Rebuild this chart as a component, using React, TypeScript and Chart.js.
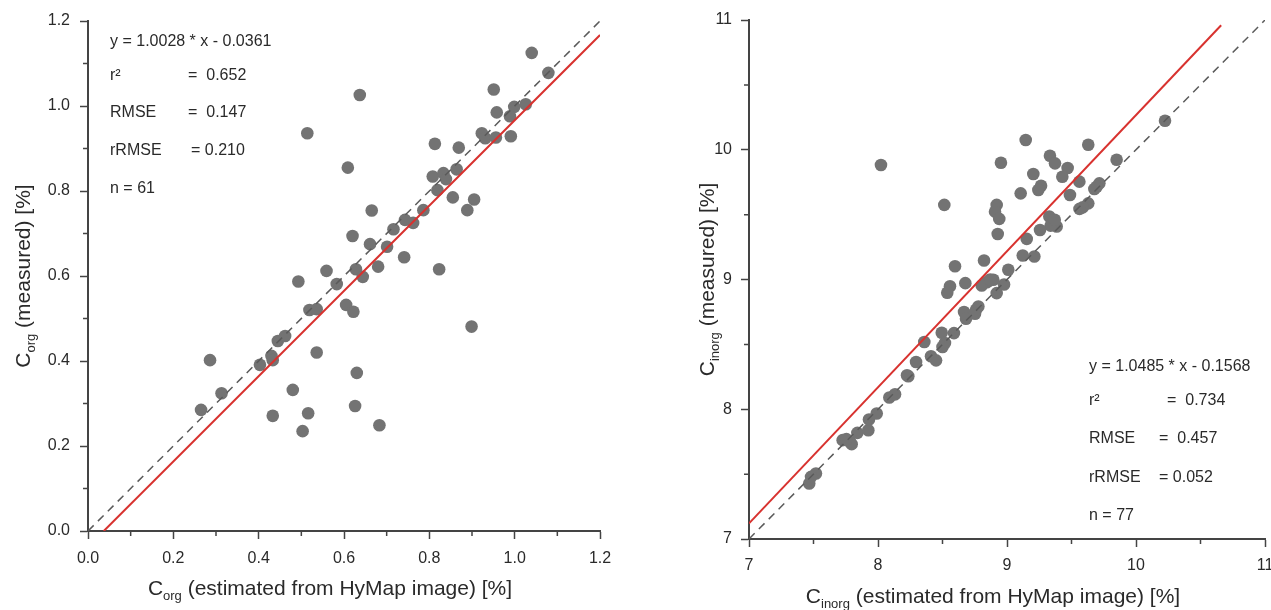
import React, { useEffect, useRef } from 'react';
import { Chart, registerables } from 'chart.js';

Chart.register(...registerables);

const FONT = "'Liberation Sans', Arial, Helvetica, sans-serif";
const AXIS_COLOR = '#444444';
const TEXT_COLOR = '#2a2a2a';
const DOT_COLOR = '#737373';
const RED = '#d8322f';
const DASH = '#5a5a5a';

// ---------- Left chart: C_org ----------
const orgAxisMin = 0;
const orgAxisMax = 1.2;
const orgMajorStep = 0.2;
const orgMinorTicks = [0.1, 0.3, 0.5, 0.7, 0.9, 1.1];
const orgEstimated = [
  1.04, 1.079, 0.951, 0.637, 0.958, 0.999, 0.989, 1.026, 0.923, 0.931, 0.956, 0.991,
  0.514, 0.813, 0.869, 0.609, 0.808, 0.833, 0.839, 0.864, 0.819, 0.855, 0.905, 0.889,
  0.665, 0.786, 0.743, 0.762, 0.716, 0.62, 0.661, 0.701, 0.741, 0.559, 0.628, 0.68,
  0.823, 0.644, 0.583, 0.493, 0.519, 0.536, 0.536, 0.286, 0.265, 0.313, 0.403, 0.43,
  0.433, 0.445, 0.462, 0.48, 0.433, 0.516, 0.503, 0.605, 0.622, 0.899, 0.63, 0.626, 0.683,
];
const orgMeasured = [
  1.125, 1.078, 1.039, 1.026, 0.985, 0.998, 0.976, 1.004, 0.936, 0.924, 0.926, 0.929,
  0.936, 0.911, 0.902, 0.855, 0.834, 0.842, 0.828, 0.851, 0.802, 0.785, 0.78, 0.755,
  0.754, 0.755, 0.732, 0.725, 0.71, 0.694, 0.675, 0.669, 0.644, 0.612, 0.616, 0.622,
  0.616, 0.598, 0.581, 0.587, 0.52, 0.522, 0.42, 0.402, 0.285, 0.324, 0.391, 0.412,
  0.402, 0.447, 0.459, 0.332, 0.271, 0.277, 0.235, 0.532, 0.516, 0.481, 0.372, 0.294, 0.249,
];
const orgFitX = [0.037, 1.2];
const orgFitY = [0, 1.167];
const orgOneToOne = [0, 1.2];
const orgStatLabels = ['y = 1.0028 * x - 0.0361', 'r\u00B2', 'RMSE', 'rRMSE', 'n = 61'];
const orgStatValues = ['', '=  0.652', '=  0.147', '= 0.210', ''];

// ---------- Right chart: C_inorg ----------
const inorgAxisMin = 7;
const inorgAxisMax = 11;
const inorgMajorStep = 1;
const inorgMinorTicks = [7.5, 8.5, 9.5, 10.5];
const inorgEstimated = [
  8.023, 8.514, 8.597, 8.822, 8.558, 8.537, 8.677, 8.667, 8.682, 8.76, 8.778, 8.494,
  8.589, 8.519, 8.359, 8.843, 10.225, 9.145, 9.63, 9.333, 9.372, 8.953, 9.47, 9.85,
  9.204, 9.429, 9.264, 9.243, 9.106, 9.488, 9.561, 9.716, 9.695, 9.677, 8.92, 8.907,
  8.94, 8.928, 9.63, 9.587, 9.562, 9.328, 9.359, 9.385, 9.338, 9.256, 9.153, 9.122,
  9.212, 9.01, 8.977, 8.92, 8.863, 8.894, 8.804, 8.752, 7.519, 7.481, 7.467, 7.726,
  7.783, 7.796, 7.84, 7.925, 7.93, 7.99, 8.088, 8.132, 8.235, 8.295, 8.411, 8.45,
  8.5, 9.37, 8.225, 7.755, 8.87,
];
const inorgMeasured = [
  9.882, 9.575, 9.102, 9.146, 8.948, 8.898, 8.972, 8.749, 8.698, 8.767, 8.792, 8.59,
  8.587, 8.51, 8.518, 8.979, 10.223, 10.075, 10.038, 9.954, 9.895, 9.9, 9.859, 9.923,
  9.813, 9.792, 9.723, 9.69, 9.664, 9.651, 9.754, 9.741, 9.715, 9.698, 9.575, 9.523,
  9.467, 9.351, 9.587, 9.556, 9.544, 9.485, 9.441, 9.408, 9.415, 9.382, 9.313, 9.185,
  9.177, 9.075, 8.962, 8.895, 8.992, 8.998, 8.954, 8.736, 7.505, 7.479, 7.428, 7.762,
  7.749, 7.731, 7.818, 7.838, 7.921, 7.967, 8.09, 8.115, 8.254, 8.364, 8.408, 8.377,
  8.48, 9.46, 8.262, 7.77, 9.0,
];
const inorgFitX = [7, 10.66];
const inorgFitY = [7.12, 10.96];
const inorgOneToOne = [7, 11];
const inorgStatLabels = ['y = 1.0485 * x - 0.1568', 'r\u00B2', 'RMSE', 'rRMSE', 'n = 77'];
const inorgStatValues = ['', '=  0.734', '=  0.457', '= 0.052', ''];

type Layout = {
  canvasLeft: number;
  canvasWidth: number;
  yScaleWidth: number;
  xScaleHeight: number;
  padTop: number;
  padRight: number;
  labelPad: number;
  xTitleDx: number;
  xTitleY: number;
  yTitleX: number;
  sub: string;
  statX: number;
  statValX: number[];
  statY: number[];
  decimals: number;
};

function toPoints(xs: number[], ys: number[]) {
  return xs.map((x, i) => ({ x, y: ys[i] }));
}

function drawTitle(ctx: CanvasRenderingContext2D, cx: number, cy: number, sub: string, rest: string, rotate: boolean) {
  ctx.save();
  ctx.translate(cx, cy);
  if (rotate) ctx.rotate(-Math.PI / 2);
  const mainFont = `21px ${FONT}`;
  const subFont = `13px ${FONT}`;
  ctx.font = mainFont;
  const wC = ctx.measureText('C').width;
  const wRest = ctx.measureText(rest).width;
  ctx.font = subFont;
  const wSub = ctx.measureText(sub).width;
  const total = wC + wSub + wRest;
  let x = -total / 2;
  ctx.fillStyle = TEXT_COLOR;
  ctx.textBaseline = 'alphabetic';
  ctx.textAlign = 'left';
  ctx.font = mainFont;
  ctx.fillText('C', x, 7);
  x += wC;
  ctx.font = subFont;
  ctx.fillText(sub, x, 12);
  x += wSub;
  ctx.font = mainFont;
  ctx.fillText(rest, x, 7);
  ctx.restore();
}

function buildConfig(
  L: Layout,
  min: number,
  max: number,
  step: number,
  minor: number[],
  ex: number[],
  me: number[],
  fitX: number[],
  fitY: number[],
  one: number[],
  statLabels: string[],
  statValues: string[],
) {
  const tickFont = { family: FONT, size: 16 };
  const grid = {
    display: true,
    drawOnChartArea: false,
    drawTicks: true,
    tickLength: 8,
    tickWidth: 1.5,
    tickColor: AXIS_COLOR,
    color: AXIS_COLOR,
  };
  const border = { display: true, color: AXIS_COLOR, width: 2 };
  const fmt = (v: any) => Number(v).toFixed(L.decimals);

  const overlay = {
    id: 'overlay' + L.sub,
    afterDraw(chart: any) {
      const ctx: CanvasRenderingContext2D = chart.ctx;
      const area = chart.chartArea;
      const xs = chart.scales.x;
      const ys = chart.scales.y;
      ctx.save();
      ctx.strokeStyle = AXIS_COLOR;
      ctx.lineWidth = 1.5;
      ctx.beginPath();
      minor.forEach((v) => {
        const px = xs.getPixelForValue(v);
        ctx.moveTo(px, area.bottom);
        ctx.lineTo(px, area.bottom + 5);
        const py = ys.getPixelForValue(v);
        ctx.moveTo(area.left, py);
        ctx.lineTo(area.left - 5, py);
      });
      ctx.stroke();
      ctx.restore();

      const cx = (area.left + area.right) / 2 + L.xTitleDx;
      drawTitle(ctx, cx, L.xTitleY, L.sub, ' (estimated from HyMap image) [%]', false);
      drawTitle(ctx, L.yTitleX, (area.top + area.bottom) / 2, L.sub, ' (measured) [%]', true);

      ctx.save();
      ctx.font = `16px ${FONT}`;
      ctx.fillStyle = TEXT_COLOR;
      ctx.textBaseline = 'middle';
      ctx.textAlign = 'left';
      statLabels.forEach((t, i) => {
        ctx.fillText(t, L.statX, L.statY[i]);
        if (statValues[i]) ctx.fillText(statValues[i], L.statValX[i], L.statY[i]);
      });
      ctx.restore();
    },
  };

  return {
    type: 'scatter' as const,
    data: {
      datasets: [
        {
          data: toPoints(fitX, fitY),
          showLine: true,
          borderColor: RED,
          borderWidth: 2,
          pointRadius: 0,
          order: 0,
        },
        {
          data: toPoints(one, one),
          showLine: true,
          borderColor: DASH,
          borderWidth: 1.5,
          borderDash: [8, 6],
          pointRadius: 0,
          order: 1,
        },
        {
          data: toPoints(ex, me),
          showLine: false,
          pointRadius: 6.3,
          pointBackgroundColor: DOT_COLOR,
          pointBorderWidth: 0,
          order: 2,
        },
      ],
    },
    options: {
      responsive: false,
      animation: false as const,
      events: [],
      layout: { padding: { top: L.padTop, right: L.padRight, left: 0, bottom: 0 } },
      plugins: { legend: { display: false }, tooltip: { enabled: false } },
      scales: {
        x: {
          type: 'linear' as const,
          min,
          max,
          afterFit: (s: any) => {
            s.height = L.xScaleHeight;
          },
          ticks: {
            stepSize: step,
            callback: fmt,
            font: tickFont,
            color: TEXT_COLOR,
            padding: L.labelPad,
            maxRotation: 0,
            autoSkip: false,
          },
          grid,
          border,
        },
        y: {
          type: 'linear' as const,
          min,
          max,
          afterFit: (s: any) => {
            s.width = L.yScaleWidth;
          },
          ticks: {
            stepSize: step,
            callback: fmt,
            font: tickFont,
            color: TEXT_COLOR,
            padding: L.labelPad,
            autoSkip: false,
          },
          grid,
          border,
        },
      },
    },
    plugins: [overlay],
  };
}

const leftLayout: Layout = {
  canvasLeft: 0,
  canvasWidth: 630,
  yScaleWidth: 88,
  xScaleHeight: 79,
  padTop: 21,
  padRight: 30,
  labelPad: 10,
  xTitleDx: -14,
  xTitleY: 588,
  yTitleX: 23,
  sub: 'org',
  statX: 110,
  statValX: [0, 188, 188, 191, 0],
  statY: [42, 76, 113, 151, 189],
  decimals: 1,
};

const rightLayout: Layout = {
  canvasLeft: 640,
  canvasWidth: 660,
  yScaleWidth: 109,
  xScaleHeight: 71,
  padTop: 20,
  padRight: 35,
  labelPad: 9,
  xTitleDx: -14,
  xTitleY: 596,
  yTitleX: 707 - 640,
  sub: 'inorg',
  statX: 1089 - 640,
  statValX: [0, 1167 - 640, 1159 - 640, 1159 - 640, 0],
  statY: [367, 401, 439, 478, 516],
  decimals: 0,
};

function ScatterPanel(props: { layout: Layout; which: 'org' | 'inorg' }) {
  const ref = useRef<HTMLCanvasElement | null>(null);
  const L = props.layout;
  useEffect(() => {
    if (!ref.current) return;
    const cfg =
      props.which === 'org'
        ? buildConfig(L, orgAxisMin, orgAxisMax, orgMajorStep, orgMinorTicks, orgEstimated, orgMeasured, orgFitX, orgFitY, orgOneToOne, orgStatLabels, orgStatValues)
        : buildConfig(L, inorgAxisMin, inorgAxisMax, inorgMajorStep, inorgMinorTicks, inorgEstimated, inorgMeasured, inorgFitX, inorgFitY, inorgOneToOne, inorgStatLabels, inorgStatValues);
    const chart = new Chart(ref.current, cfg as any);
    return () => chart.destroy();
  }, []);
  return (
    <canvas
      ref={ref}
      width={L.canvasWidth}
      height={610}
      style={{ position: 'absolute', left: L.canvasLeft, top: 0, width: L.canvasWidth, height: 610, display: 'block' }}
    />
  );
}

export default function App() {
  return (
    <div
      style={{
        position: 'fixed',
        left: 0,
        top: 0,
        width: 1271,
        height: 610,
        overflow: 'hidden',
        background: '#ffffff',
      }}
    >
      <ScatterPanel layout={leftLayout} which="org" />
      <ScatterPanel layout={rightLayout} which="inorg" />
    </div>
  );
}
